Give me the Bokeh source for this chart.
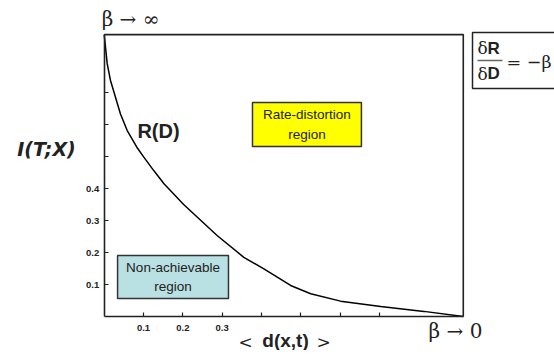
from bokeh.plotting import figure
from bokeh.models import LinearAxis, FixedTicker, Range1d, ColumnDataSource
from bokeh.core.properties import value
from bokeh.embed import file_html
from bokeh.resources import INLINE

# Rate-distortion curve R(D)
curve_d = [0.0, 0.0076, 0.016, 0.0287, 0.0414, 0.0585, 0.083, 0.1007, 0.126, 0.152, 0.202,
           0.287, 0.355, 0.406, 0.474, 0.525, 0.601, 0.703, 0.813, 0.913]
curve_r = [0.881, 0.79, 0.7375, 0.685, 0.633, 0.581, 0.529, 0.498, 0.456, 0.415, 0.35,
           0.253, 0.185, 0.149, 0.097, 0.071, 0.048, 0.031, 0.016, 0.0]

# plot box extent (data units)
d_max = 0.913
r_max = 0.881

x_ticks = [0.1, 0.2, 0.3, 0.4, 0.5, 0.6, 0.7]
x_tick_labels = ["0.1", "0.2", "0.3", "", "", "", ""]
y_ticks = [0.1, 0.2, 0.3, 0.4, 0.5, 0.6, 0.7]
y_tick_labels = ["0.1", "0.2", "0.3", "0.4", "", "", ""]

# region boxes: left, right, top, bottom
region_names = ["Non-achievable\nregion", "Rate-distortion\nregion"]
region_left = [0.034, 0.377]
region_right = [0.316, 0.654]
region_top = [0.191, 0.669]
region_bottom = [0.056, 0.531]
region_colors = ["#b9e0e2", "#ffff00"]

W, H = 554, 350
x0, sx = 103.7, 393.3   # pixel of d=0, pixels per unit
y0, sy = 316.0, 320.0   # pixel of r=0, pixels per unit

p = figure(width=W, height=H, output_backend="svg", toolbar_location=None,
           x_range=Range1d(-x0 / sx, (W - x0) / sx), y_range=Range1d((y0 - H) / sy, y0 / sy),
           x_axis_location=None, y_axis_location=None,
           min_border=0)
p.background_fill_color = "white"
p.border_fill_color = "white"
p.outline_line_color = None
p.grid.visible = False

xax = LinearAxis(fixed_location=0, bounds=(0, d_max))
yax = LinearAxis(fixed_location=0, bounds=(0, r_max))
p.add_layout(xax, "below")
p.add_layout(yax, "left")
for ax, ticks, labels in ((xax, x_ticks, x_tick_labels), (yax, y_ticks, y_tick_labels)):
    ax.ticker = FixedTicker(ticks=ticks)
    ax.major_label_overrides = {t: l for t, l in zip(ticks, labels)}
    ax.minor_tick_line_color = None
    ax.major_tick_in = 4
    ax.major_tick_out = 0
    ax.axis_line_color = "#222222"
    ax.axis_line_width = 1.6
    ax.major_tick_line_color = "#222222"
    ax.major_tick_line_width = 1.2
    ax.major_label_text_font = "Liberation Sans"
    ax.major_label_text_font_style = "bold"
    ax.major_label_text_font_size = "9.5px"
    ax.major_label_text_color = "#222222"
xax.major_label_standoff = 8
yax.major_label_standoff = 5

# top and right edges of the plot box
p.line([0, d_max, d_max], [r_max, r_max, 0], line_color="#222222", line_width=1.6)

p.line(curve_d, curve_r, line_color="black", line_width=1.5)

src = ColumnDataSource(dict(l=region_left, r=region_right, t=region_top, b=region_bottom,
                            c=region_colors, name=region_names,
                            cx=[(a + b) / 2 for a, b in zip(region_left, region_right)],
                            cy=[(a + b) / 2 for a, b in zip(region_top, region_bottom)]))
p.quad(left="l", right="r", top="t", bottom="b", fill_color="c", line_color="#333333",
       line_width=1.5, source=src)
p.text(x="cx", y="cy", text="name", text_align="center", text_baseline="middle",
       text_font=value("Liberation Sans"), text_font_size="13.5px", text_color="#222222",
       text_line_height=1.3, source=src)


def px(x):
    return (x - x0) / sx


def py(y):
    return (y0 - y) / sy


def label(x, y, text, font, size, style="normal", align="center", baseline="middle"):
    p.text(x=[px(x)], y=[py(y)], text=[text], text_align=align, text_baseline=baseline,
           text_font=value(font), text_font_style=style, text_font_size=size,
           text_color="#222222")


label(158, 130, "R(D)", "Liberation Sans", "20px", "bold")
label(130, 18, "β → ∞", "DejaVu Serif", "20px")
label(455, 330, "β → 0", "DejaVu Serif", "20px")
label(245, 341, "<", "DejaVu Serif", "17px")
label(285, 340, "d(x,t)", "Liberation Sans", "19px", "bold")
label(323, 341, ">", "DejaVu Serif", "17px")
label(46, 148, "I(T;X)", "DejaVu Sans", "19px", "bold italic")

# formula box  dR/dD = -beta
p.quad(left=[px(472)], right=[px(W + 20)], top=[py(32)], bottom=[py(88)],
       fill_color="white", line_color="#222222", line_width=1.5)
p.line([px(477), px(502)], [py(60), py(60)], line_color="#666666", line_width=1.5)
label(477, 57, "δ", "DejaVu Serif", "17px", "normal", "left", "bottom")
label(487, 57, "R", "Liberation Sans", "17px", "bold", "left", "bottom")
label(477, 63, "δ", "DejaVu Serif", "17px", "normal", "left", "top")
label(487, 63, "D", "Liberation Sans", "17px", "bold", "left", "top")
label(506, 61, "= −β", "DejaVu Serif", "17.5px", "normal", "left", "middle")

open("out.html", "w").write(file_html(p, INLINE))
